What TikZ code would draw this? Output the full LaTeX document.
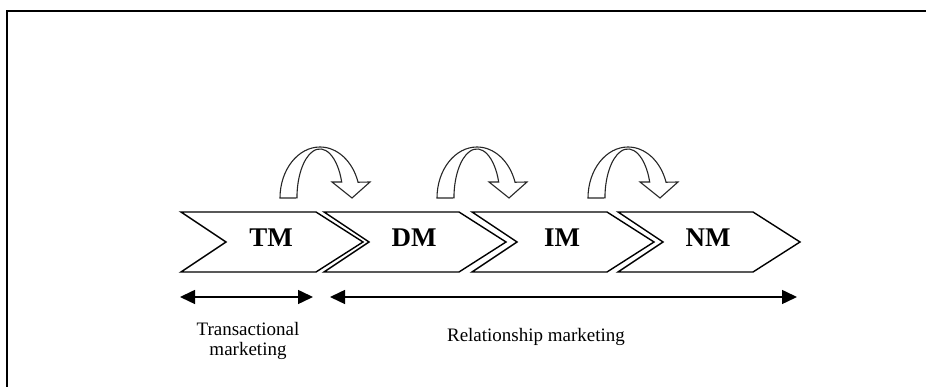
\documentclass[tikz,border=0pt]{standalone}
\usepackage{fontspec}
\setmainfont{Liberation Serif}
\usetikzlibrary{arrows.meta, positioning}
\tikzset{
  chev/.style={draw=black, line width=1.4pt, fill=white, line join=miter},
  stage/.style={font=\fontsize{27}{30}\selectfont\bfseries, inner sep=0pt},
  turn/.style={draw=black!85, line width=1.1pt, fill=white},
  span/.style={{Triangle[length=15pt,width=14pt]}-{Triangle[length=15pt,width=14pt]}, line width=1.5pt},
  note/.style={font=\fontsize{19}{20}\selectfont, align=center, inner sep=0pt},
}

\begin{document}
\begin{tikzpicture}[x=1pt, y=1pt]
  \useasboundingbox (0,0) rectangle (926,387);
  % frame
  \draw[line width=2.5pt] (7,0) -- (7,376) -- (926,376);
  % stages
  \foreach \n/\x/\lab in {tm/181/TM, dm/324/DM, im/472/IM, nm/618/NM} {
    \draw[chev] (\x,175) -- ++(135,0) -- ++(47,-30) -- ++(-47,-30)
      -- ++(-135,0) -- ++(45,30) -- cycle;
    \node[stage] (\n) at (\x+90,149) {\lab};
  }
  % turning arrows
  \foreach \a in {280, 437, 588} {
    \draw[turn] (\a,189) arc[start angle=180, end angle=18, x radius=40, y radius=51]
      -- (\a+90,205) -- (\a+72,189) -- (\a+52,205) -- (\a+61.7,205)
      arc[start angle=19, end angle=180, x radius=23, y radius=49] -- cycle;
  }
  % spans
  \coordinate (trL) at (180,90);
  \coordinate (trR) at (313,90);
  \coordinate (reL) at (330,90);
  \coordinate (reR) at (797,90);
  \draw[span] (trL) -- (trR);
  \draw[span] (reL) -- (reR);
  \node[note] (tr) at (248,46) {Transactional\\marketing};
  \node[note] (re) at (536,50.5) {Relationship marketing};
\end{tikzpicture}
\end{document}
